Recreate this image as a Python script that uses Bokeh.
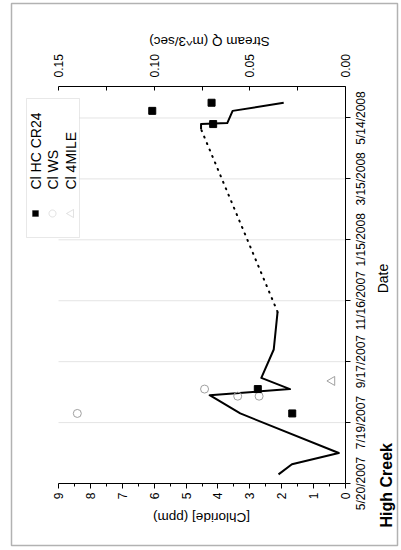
import math
import pandas as pd
from bokeh.plotting import figure
from bokeh.models import (Range1d, LinearAxis, FixedTicker, NumeralTickFormatter,
                          Label, BoxAnnotation, PolyAnnotation)
from bokeh.core.properties import value
from bokeh.embed import file_html
from bokeh.resources import INLINE

FONT = "Liberation Sans"

# ---------------- data ----------------
# Stream Q (m^3/sec), first recorded segment
q1_dates = ["2007-05-29", "2007-06-08", "2007-06-19", "2007-07-28", "2007-08-15",
            "2007-08-21", "2007-09-01", "2007-09-29", "2007-11-05"]
q1_vals = [0.035, 0.028, 0.0035, 0.055, 0.071, 0.029, 0.044, 0.0375, 0.0355]
# gap in the record (dotted)
gap_dates = ["2007-11-05", "2008-05-03"]
gap_vals = [0.0355, 0.0755]
# second recorded segment
q2_dates = ["2008-05-03", "2008-05-08", "2008-05-09", "2008-05-21", "2008-05-29"]
q2_vals = [0.0755, 0.0755, 0.0618, 0.059, 0.0323]

# Chloride (ppm)
cr24_dates = ["2007-07-28", "2007-08-21", "2008-05-08", "2008-05-21", "2008-05-29"]
cr24_vals = [1.67, 2.75, 4.15, 6.06, 4.2]
ws_dates = ["2007-07-28", "2007-08-21", "2007-08-14", "2007-08-14"]
ws_vals = [8.41, 4.42, 3.38, 2.71]
mile_dates = ["2007-08-29"]
mile_vals = [0.42]

date_ticks = ["2007-05-20", "2007-07-19", "2007-09-17", "2007-11-16",
              "2008-01-15", "2008-03-15", "2008-05-14"]
date_tick_labels = ["5/20/2007", "7/19/2007", "9/17/2007", "11/16/2007",
                    "1/15/2008", "3/15/2008", "5/14/2008"]
date_start, date_end = "2007-05-20", "2008-06-14"
cl_ticks = [0, 1, 2, 3, 4, 5, 6, 7, 8, 9]
q_ticks = [0.0, 0.05, 0.10, 0.15]

legend_labels = ["Cl HC CR24", "Cl WS", "Cl 4MILE"]


def dt(lst):
    return pd.to_datetime(lst)


def ms(d):
    return int(pd.Timestamp(d).value // 10**6)


# ---------------- layout (page is drawn rotated) ----------------
W, H = 400, 549
FL, FR, FT, FB = 58, 345, 86, 483          # pixel box of the axes


def span_range(lo, hi, p_lo, p_hi, total):
    # lo at pixel p_lo, hi at pixel p_hi (p_hi < p_lo), range over [0, total]
    scale = (p_lo - p_hi) / (hi - lo)
    return Range1d(hi + p_hi / scale, lo - (total - p_lo) / scale)


x_rng = span_range(cl_ticks[0], cl_ticks[-1], FR, FL, W)
q_rng = span_range(q_ticks[0], q_ticks[-1], FR, FL, W)
t0, t1 = ms(date_start), ms(date_end)
ys = (FB - FT) / (t1 - t0)
y_rng = Range1d(t0 - (H - FB) / ys, t1 + FT / ys)

p = figure(width=W, height=H, output_backend="svg", toolbar_location=None,
           x_range=x_rng, y_range=y_rng,
           x_axis_location=None, y_axis_location=None,
           min_border=0, min_border_left=0, min_border_right=0,
           min_border_top=0, min_border_bottom=0)
p.extra_x_ranges = {"q": q_rng}
p.outline_line_color = None
p.background_fill_color = "white"
p.border_fill_color = "white"
p.xgrid.grid_line_color = None
p.ygrid.grid_line_color = None

# gridlines at the date ticks, across the chloride span
p.segment(x0=[cl_ticks[-1]] * len(date_ticks), x1=[cl_ticks[0]] * len(date_ticks),
          y0=dt(date_ticks), y1=dt(date_ticks), line_color="#e4e4e4", line_width=1,
          level="underlay")


def style_axis(ax):
    ax.axis_line_color = "black"
    ax.axis_line_width = 1
    ax.major_tick_line_color = "black"
    ax.minor_tick_line_color = "black"
    ax.major_label_text_font = FONT
    ax.major_label_text_font_size = "12px"
    ax.major_label_text_color = "black"


bottom = LinearAxis(ticker=FixedTicker(ticks=cl_ticks, minor_ticks=[t + 0.5 for t in cl_ticks[:-1]]),
                    fixed_location=t0, bounds=(cl_ticks[0], cl_ticks[-1]))
style_axis(bottom)
bottom.major_tick_out = 5
bottom.major_tick_in = 0
bottom.minor_tick_out = 3
bottom.minor_tick_in = 0
bottom.major_label_orientation = math.pi / 2
bottom.major_label_standoff = 4
p.add_layout(bottom, "below")

top = LinearAxis(x_range_name="q",
                 ticker=FixedTicker(ticks=q_ticks, minor_ticks=[0.025, 0.075, 0.125]),
                 formatter=NumeralTickFormatter(format="0.00"),
                 fixed_location=t1, bounds=(q_ticks[0], q_ticks[-1]))
style_axis(top)
top.major_tick_out = 0
top.major_tick_in = 4
top.minor_tick_out = 0
top.minor_tick_in = 4
top.major_label_orientation = math.pi / 2
top.major_label_standoff = 9
p.add_layout(top, "above")

right = LinearAxis(ticker=FixedTicker(ticks=[ms(d) for d in date_ticks]),
                   fixed_location=cl_ticks[0], bounds=(t0, t1))
style_axis(right)
right.major_tick_out = 5
right.major_tick_in = 0
right.major_label_text_color = None
p.add_layout(right, "right")

# date tick labels, centred on their ticks and reading upward
p.text(x=[cl_ticks[0]] * len(date_ticks), y=dt(date_ticks), text=date_tick_labels,
       angle=math.pi / 2, x_offset=8, text_align="center", text_baseline="top",
       text_font=value(FONT), text_font_size="12px", text_color="black")

# ---------------- glyphs ----------------
p.line(x=q1_vals, y=dt(q1_dates), x_range_name="q", line_color="black",
       line_width=2, line_join="round")
p.line(x=gap_vals, y=dt(gap_dates), x_range_name="q", line_color="black",
       line_width=2, line_dash="1 6", line_cap="round")
p.line(x=q2_vals, y=dt(q2_dates), x_range_name="q", line_color="black",
       line_width=2, line_join="round")

p.scatter(x=ws_vals, y=dt(ws_dates), marker="circle", size=8, fill_color=None,
          line_color="#a0a0a0", line_width=1)
p.scatter(x=mile_vals, y=dt(mile_dates), marker="triangle", angle=math.pi / 2, size=9,
          fill_color=None, line_color="#a0a0a0", line_width=1)
p.scatter(x=cr24_vals, y=dt(cr24_dates), marker="square", size=7, fill_color="black",
          line_color="black")


# ---------------- titles ----------------
def lab(x, y, text, angle, size="13px", align="center", style="normal"):
    p.add_layout(Label(x=x, y=y, x_units="canvas", y_units="canvas", text=text,
                       angle=angle, text_align=align, text_baseline="middle",
                       text_font=FONT, text_font_size=size, text_font_style=style,
                       text_color="black"))


lab(201, 517, "[Chloride] (ppm)", math.pi, size="13.5px")
lab(209, 41, "Stream Q (m^3/sec)", math.pi, size="13.5px")
lab(382, 278, "Date", math.pi / 2, size="14px")
lab(386, 527, "High Creek", math.pi / 2, size="16px", align="left", style="bold")

# ---------------- legend (drawn rotated) ----------------
p.add_layout(BoxAnnotation(left=26, right=79, top=98, bottom=237,
                           left_units="canvas", right_units="canvas",
                           top_units="canvas", bottom_units="canvas",
                           fill_color="white", fill_alpha=1,
                           line_color="#b4b4b4", line_width=1))
for cx, txt in zip([35, 52, 70], legend_labels):
    lab(cx, 189, txt, math.pi / 2, size="14px", align="left")
# square
p.add_layout(BoxAnnotation(left=32, right=38, top=210, bottom=216,
                           left_units="canvas", right_units="canvas",
                           top_units="canvas", bottom_units="canvas",
                           fill_color="black", fill_alpha=1, line_color="black"))
# circle
n = 24
p.add_layout(PolyAnnotation(xs=[52 + 3.5 * math.cos(2 * math.pi * i / n) for i in range(n)],
                            ys=[213 + 3.5 * math.sin(2 * math.pi * i / n) for i in range(n)],
                            xs_units="canvas", ys_units="canvas",
                            fill_color=None, line_color="#a0a0a0", line_width=1))
# triangle pointing left
p.add_layout(PolyAnnotation(xs=[66, 73, 73], ys=[213, 209, 217],
                            xs_units="canvas", ys_units="canvas",
                            fill_color=None, line_color="#a0a0a0", line_width=1))

# outer border
p.add_layout(BoxAnnotation(left=11, right=397, top=3, bottom=545,
                           left_units="canvas", right_units="canvas",
                           top_units="canvas", bottom_units="canvas",
                           fill_color=None, line_color="black", line_width=1.5))

open("out.html", "w").write(file_html(p, INLINE))
